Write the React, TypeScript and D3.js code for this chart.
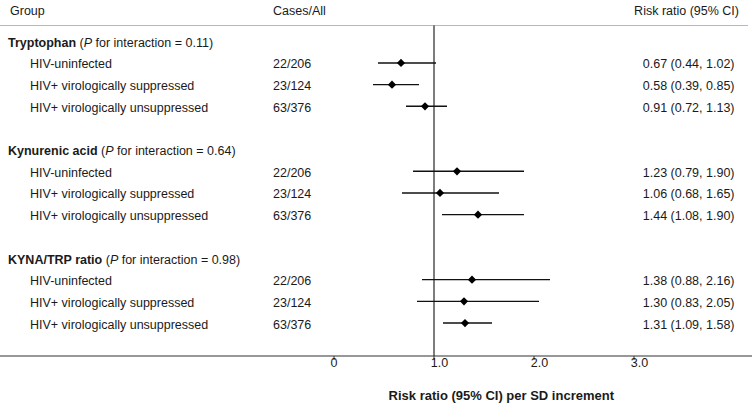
import React from "react";
import * as d3 from "d3";

const groupNames = ["Tryptophan", "Kynurenic acid", "KYNA/TRP ratio"];
const pValues = ["0.11", "0.64", "0.98"];
const subgroups = ["HIV-uninfected", "HIV+ virologically suppressed", "HIV+ virologically unsuppressed"];
const cases = [
  ["22/206", "23/124", "63/376"],
  ["22/206", "23/124", "63/376"],
  ["22/206", "23/124", "63/376"],
];
const rr = [
  [0.67, 0.58, 0.91],
  [1.23, 1.06, 1.44],
  [1.38, 1.3, 1.31],
];
const lo = [
  [0.44, 0.39, 0.72],
  [0.79, 0.68, 1.08],
  [0.88, 0.83, 1.09],
];
const hi = [
  [1.02, 0.85, 1.13],
  [1.9, 1.65, 1.9],
  [2.16, 2.05, 1.58],
];
const tickValues = [0, 1, 2, 3];
const tickLabels = ["0", "1.0", "2.0", "3.0"];

const W = 752;
const H = 405;
const FONT = "Liberation Sans, Arial, Helvetica, sans-serif";
const FS = 12.5;
const TXT = "#1a1a1a";

export default function App() {
  const x = d3.scaleLinear().domain([0, 3]).range([334, 634]);
  const y = d3.scaleLinear().domain([0, 10]).range([42.3, 259]);
  const axisY = 356;
  const headerLineY = 25.5;
  const diamond = d3.symbol().type(d3.symbolSquare).size(34)();
  const fmt = d3.format(".2f");

  return (
    <svg
      width={W}
      height={H}
      style={{ position: "absolute", left: 0, top: 0, background: "#fff" }}
      fontFamily={FONT}
      fontSize={FS}
    >
      <rect width={W} height={H} fill="#fff" />
      {/* header */}
      <text x={10} y={14.5} fill={TXT}>Group</text>
      <text x={273} y={14.5} fill={TXT}>Cases/All</text>
      <text x={739} y={14.5} fill={TXT} textAnchor="end">Risk ratio (95% CI)</text>
      <line x1={0} x2={748} y1={headerLineY} y2={headerLineY} stroke="#b8b8b8" strokeWidth={1.2} />

      {/* reference line */}
      <line x1={x(1)} x2={x(1)} y1={headerLineY} y2={axisY} stroke="#111" strokeWidth={1.1} />

      {groupNames.map((g, gi) => {
        const base = gi * 5;
        return (
          <g key={g}>
            <text x={8} y={y(base) + 4.5} fill={TXT}>
              <tspan fontWeight="bold">{g}</tspan>
              <tspan> (</tspan>
              <tspan fontStyle="italic">P</tspan>
              <tspan>{` for interaction = ${pValues[gi]})`}</tspan>
            </text>
            {subgroups.map((s, si) => {
              const yc = y(base + si + 1);
              const ym = yc - 1;
              return (
                <g key={s}>
                  <text x={30} y={yc + 4.5} fill={TXT}>{s}</text>
                  <text x={273} y={yc + 4.5} fill={TXT}>{cases[gi][si]}</text>
                  <text x={734.5} y={yc + 4.5} fill={TXT} textAnchor="end">
                    {`${fmt(rr[gi][si])} (${fmt(lo[gi][si])}, ${fmt(hi[gi][si])})`}
                  </text>
                  <line
                    x1={x(lo[gi][si])}
                    x2={x(hi[gi][si])}
                    y1={ym}
                    y2={ym}
                    stroke="#111"
                    strokeWidth={1.4}
                  />
                  <path
                    d={diamond as string}
                    transform={`translate(${x(rr[gi][si])},${ym}) rotate(45)`}
                    fill="#000"
                  />
                </g>
              );
            })}
          </g>
        );
      })}

      {/* axis */}
      <line x1={0} x2={W} y1={axisY} y2={axisY} stroke="#333" strokeWidth={1.1} />
      {tickValues.map((t, i) => (
        <g key={t}>
          <line x1={x(t)} x2={x(t)} y1={axisY} y2={axisY + 4} stroke="#333" strokeWidth={1} />
          <text
            x={x(t) + (tickLabels[i].includes(".") ? 5.5 : 0)}
            y={366.5}
            fill={TXT}
            textAnchor="middle"
          >
            {tickLabels[i]}
          </text>
        </g>
      ))}
      <text x={501.3} y={400} fill={TXT} textAnchor="middle" fontWeight="bold" fontSize={13}>
        Risk ratio (95% CI) per SD increment
      </text>
    </svg>
  );
}
